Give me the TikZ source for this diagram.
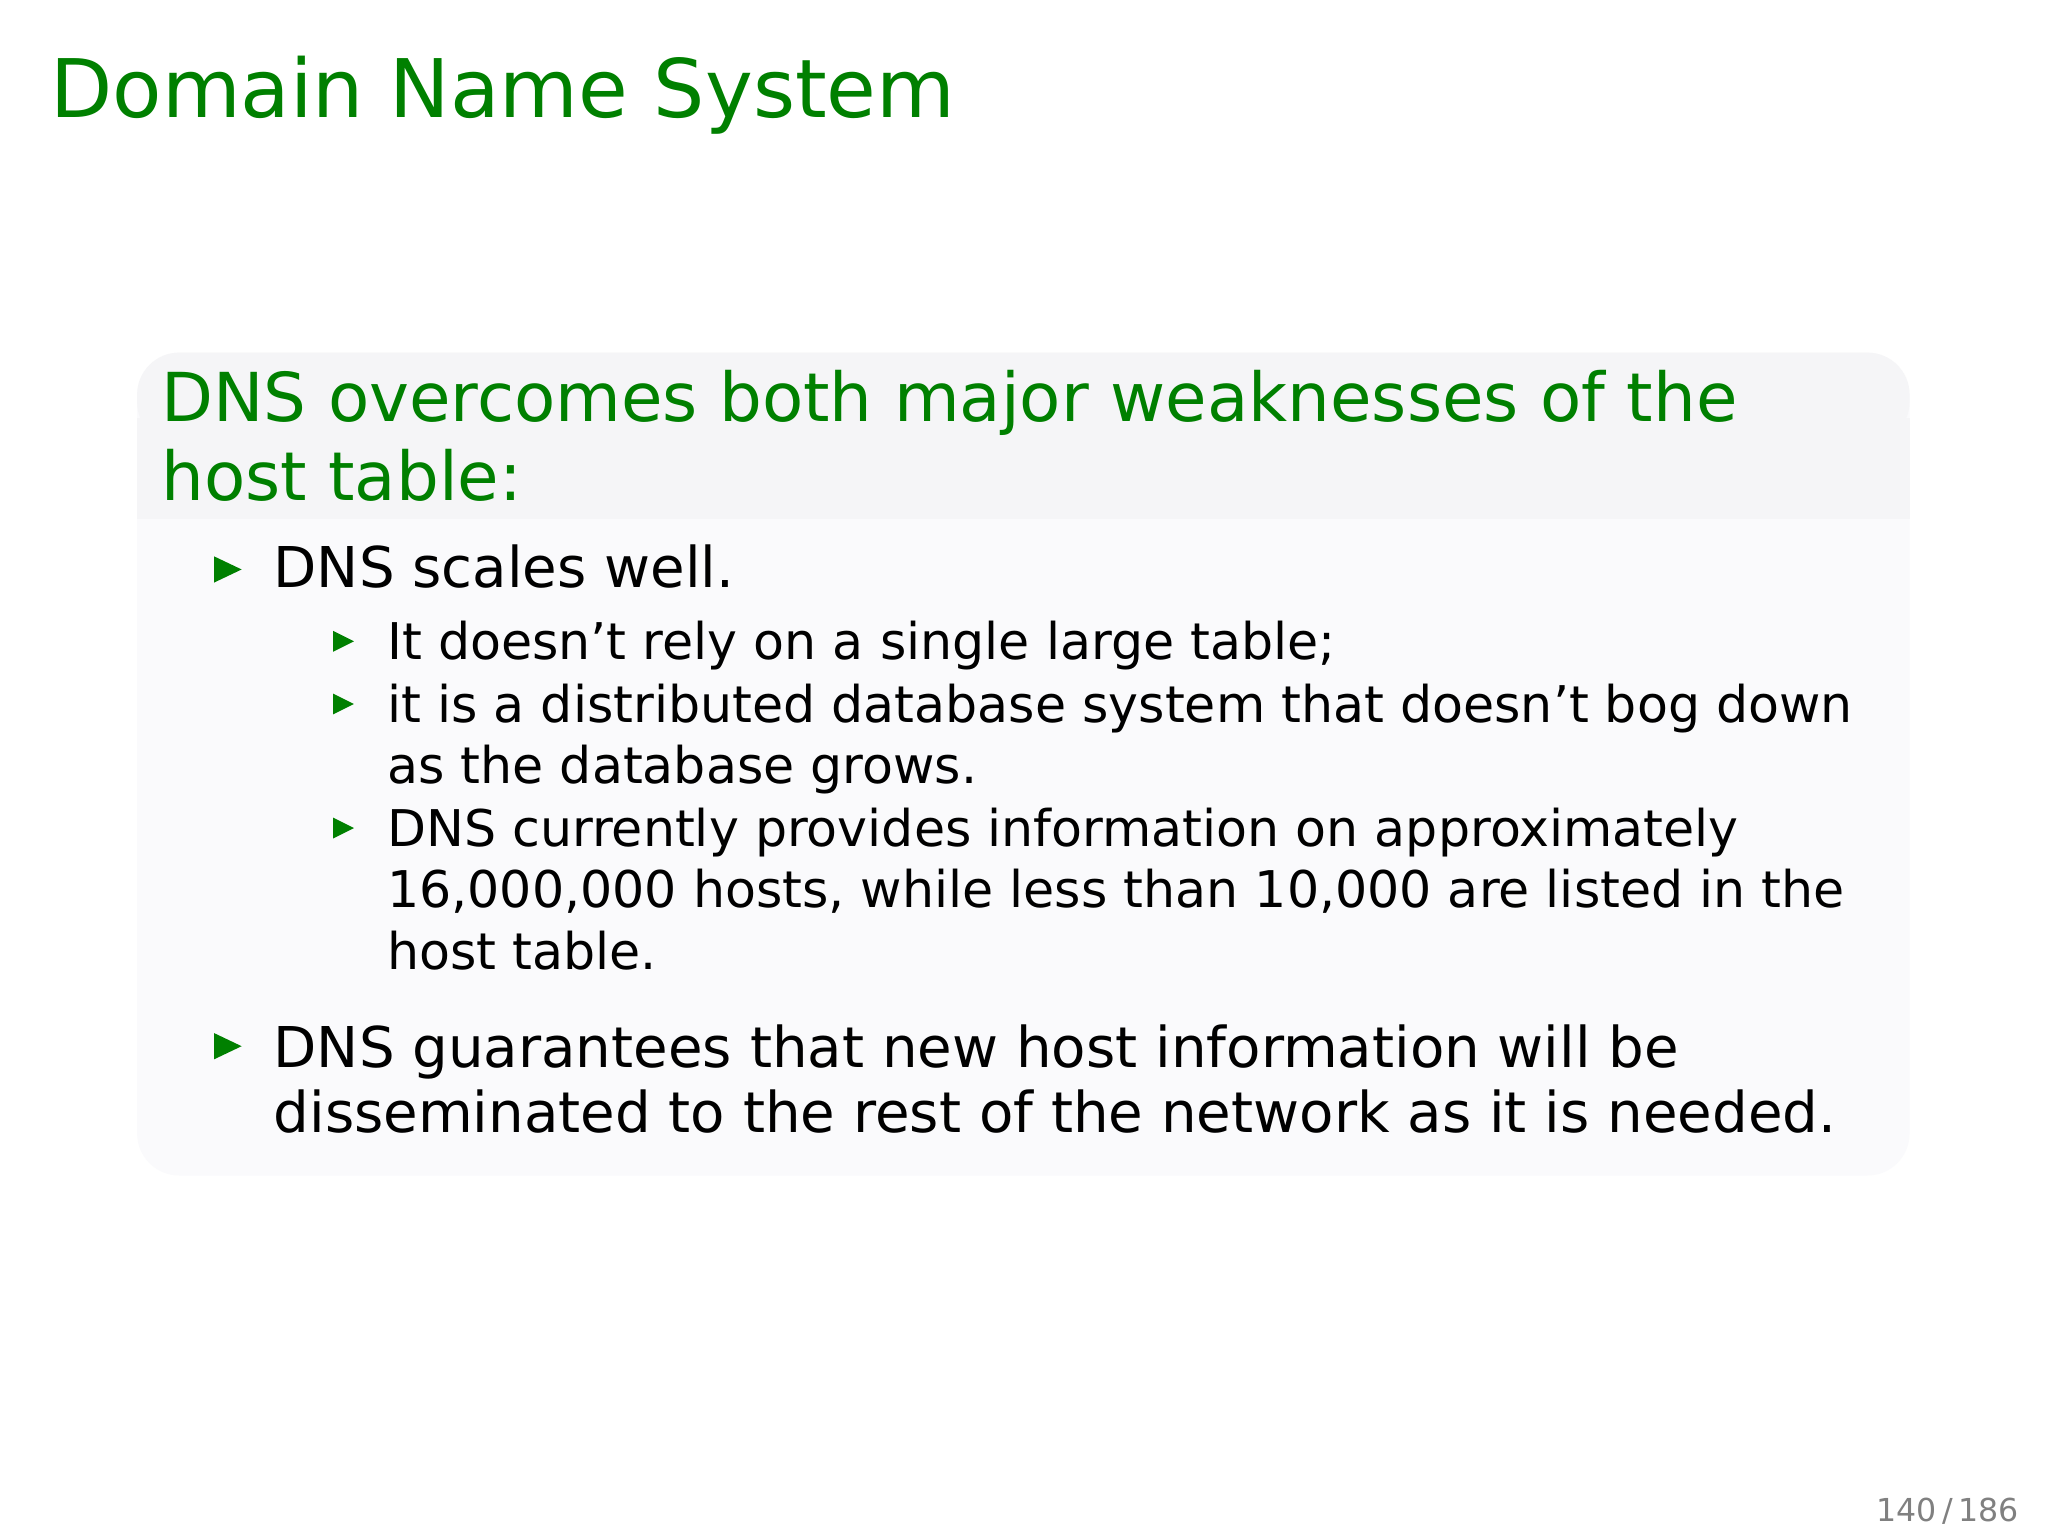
\documentclass[tikz,border=0pt]{standalone}
\usepackage{fontspec}
\setmainfont{DejaVu Sans}
\definecolor{bgreen}{RGB}{0,128,0}
\definecolor{hdr}{RGB}{245,245,247}
\definecolor{bdy}{RGB}{250,250,252}
\begin{document}
\begin{tikzpicture}[x=0.013061cm,y=-0.013061cm,
  tl/.style={anchor=base west,inner sep=0pt,text=bgreen},
  l1/.style={anchor=base west,inner sep=0pt,font=\fontsize{16.0}{19}\selectfont},
  l2/.style={anchor=base west,inner sep=0pt,font=\fontsize{14.4}{17}\selectfont},
]
\fill[white] (0,0) rectangle (1568,1176);
\useasboundingbox (0,0) rectangle (1568,1176);
\node[tl,font=\fontsize{23}{28}\selectfont] (title) at (38,90) {Domain Name System};
\fill[bdy,rounded corners=12] (105,270) rectangle (1462,900);
\fill[hdr,rounded corners=12] (105,270) rectangle (1462,340);
\fill[hdr] (105,320) rectangle (1462,397);
\node[tl,font=\fontsize{19.2}{24}\selectfont] (bt1) at (123,323) {DNS overcomes both major weaknesses of the};
\node[tl,font=\fontsize{19.2}{24}\selectfont] (bt2) at (123,383) {host table:};
% level 1
\foreach \yy in {436,801}{\fill[bgreen] (164,\yy-10) -- (185,\yy) -- (164,\yy+10) -- cycle;}
\node[l1] (a) at (209,450) {DNS scales well.};
\node[l1] (b1) at (209,817) {DNS guarantees that new host information will be};
\node[l1] (b2) at (209,867) {disseminated to the rest of the network as it is needed.};
% level 2
\foreach \yy in {491,539,634}{\fill[bgreen] (255,\yy-8) -- (271,\yy) -- (255,\yy+8) -- cycle;}
\node[l2] (c1) at (296,505) {It doesn’t rely on a single large table;};
\node[l2] (c2) at (296,553) {it is a distributed database system that doesn’t bog down};
\node[l2] (c3) at (296,600) {as the database grows.};
\node[l2] (c4) at (296,648) {DNS currently provides information on approximately};
\node[l2] (c5) at (296,695) {16,000,000 hosts, while less than 10,000 are listed in the};
\node[l2] (c6) at (296,742) {host table.};
\node[anchor=base east,inner sep=0pt,text=gray,font=\fontsize{9}{10}\selectfont] (pg) at (1546,1165) {140\,/\,186};
\end{tikzpicture}
\end{document}
